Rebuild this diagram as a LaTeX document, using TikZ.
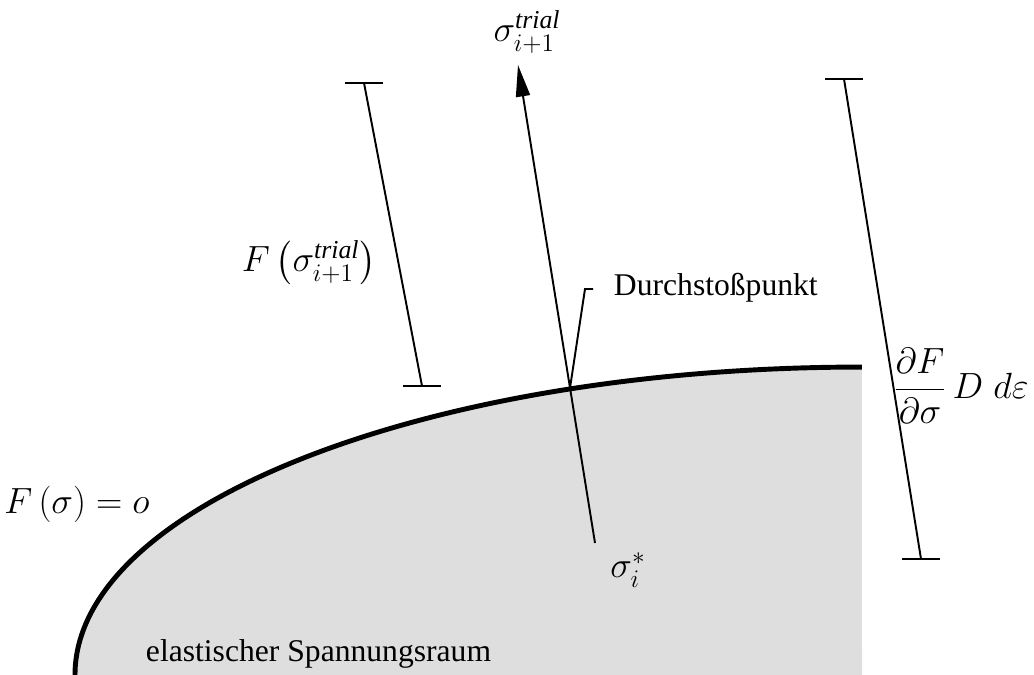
\documentclass[tikz,border=0pt]{standalone}
\usepackage{amsmath}
\usepackage{fontspec}
\setmainfont{Liberation Serif}
\usetikzlibrary{calc,arrows.meta}

\newcommand{\tallstrut}{\rule[-8pt]{0pt}{26pt}}

\begin{document}
\begin{tikzpicture}[x=0.02cm,y=0.02cm,line width=1.1pt,
  txt/.style={font=\fontsize{18}{22}\selectfont,inner sep=0pt},
  mth/.style={font=\fontsize{21}{25}\selectfont,inner sep=0pt},
  surf/.style={line width=2.8pt},
  region/.style={fill=black!13}]
  \useasboundingbox (0,0) rectangle (1034,675);
  % elastic region and yield surface
  \fill[region] (75,0) arc[start angle=180,end angle=90,x radius=15.74cm,y radius=6.16cm] -- (862,0) -- cycle;
  \draw[surf] (75,0) arc[start angle=180,end angle=90,x radius=15.74cm,y radius=6.16cm];
  \coordinate (pierce) at (570,287);
  \coordinate (kink) at (585,386);
  \coordinate (stub) at (593,386);
  \coordinate (s0) at (595,132);
  \coordinate (s1) at (518,610);
  \coordinate (lt) at (364,592);
  \coordinate (lb) at (422,289);
  \coordinate (rt) at (844,596);
  \coordinate (rb) at (921,116);
  % trial step
  \draw[-{Triangle[length=18pt,width=8pt]}] (s0) -- (s1);
  \draw (pierce) -- (kink) -- (stub);
  \draw (lt) -- (lb); \draw (rt) -- (rb);
  \foreach \p in {lt,lb,rt,rb} \draw ($(\p)+(-19,0)$) -- ($(\p)+(19,0)$);
  % labels
  \node[mth] (trial) at (527,643) {$\sigma_{i+1}^{\mathit{trial}}$};
  \node[mth] (ftrial) at (309,412) {$F\left(\tallstrut\sigma_{i+1}^{\mathit{trial}}\right)$};
  \node[mth] (grad) at (961,289) {$\displaystyle\frac{\partial F}{\partial\sigma}\,D\;d\varepsilon$};
  \node[mth] (yield) at (77,170) {$F\left(\rule[-6pt]{0pt}{22pt}\sigma\right)=o$};
  \node[mth] (start) at (628,105) {$\sigma_i^{*}$};
  \node[txt,anchor=west] (durch) at (613,387) {Durchstoßpunkt};
  \node[txt,anchor=base west] (elast) at (145,13) {elastischer Spannungsraum};
\end{tikzpicture}
\end{document}
